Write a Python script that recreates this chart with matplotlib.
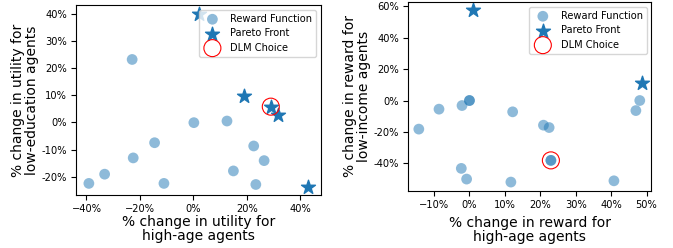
import matplotlib
matplotlib.use("Agg")
import matplotlib.pyplot as plt
from matplotlib.ticker import PercentFormatter, FuncFormatter, MultipleLocator

# Left panel data (%)
left_rf_x = [-22.9, 0.2, 12.6, -14.5, 22.6, -22.5, 26.5, -33.2, -39.1, -11.0, 15.0, 23.4]
left_rf_y = [23.2, -0.1, 0.5, -7.5, -8.7, -13.1, -14.1, -19.1, -22.5, -22.5, -17.9, -22.9]
left_pf_x = [2.1, 19.1, 29.0, 31.8, 43.1]
left_pf_y = [39.9, 9.6, 5.8, 2.8, -23.7]
left_dlm_x = [29.0]
left_dlm_y = [5.8]

# Right panel data (%)
right_rf_x = [-14.3, -8.6, -2.1, 0.0, 0.0, 12.2, 20.9, 22.5, 23.0, 23.0, -2.3, -0.8, 11.7, 40.8, 47.0, 48.1]
right_rf_y = [-18.2, -5.5, -3.2, 0.0, 0.0, -7.2, -15.7, -17.2, -38.1, -38.1, -43.2, -50.0, -51.9, -51.1, -6.4, 0.0]
right_pf_x = [1.1, 48.6]
right_pf_y = [57.4, 11.2]
right_dlm_x = [23.0]
right_dlm_y = [-38.1]

fig = plt.figure(figsize=(6.73, 2.48), dpi=100)
ax1 = fig.add_axes([0.113, 0.214, 0.364, 0.766])
ax2 = fig.add_axes([0.606, 0.231, 0.362, 0.761])

def draw(ax, rx, ry, px, py, dx, dy):
    ax.scatter(rx, ry, s=60, color="C0", alpha=0.5, edgecolors="none", label="Reward Function")
    ax.scatter(px, py, s=110, marker="*", color="C0", label="Pareto Front")
    ax.scatter(dx, dy, s=150, facecolors="none", edgecolors="red", linewidths=0.8, label="DLM Choice")
    ax.legend(loc="upper right", fontsize=7.1, borderaxespad=0.5, handletextpad=0.8,
              labelspacing=0.45, borderpad=0.4)
    ax.xaxis.set_major_formatter(PercentFormatter(decimals=0))
    ax.yaxis.set_major_formatter(FuncFormatter(lambda v, p: "%d%%" % round(v)))
    ax.tick_params(labelsize=7.1, length=3.5, pad=3)

draw(ax1, left_rf_x, left_rf_y, left_pf_x, left_pf_y, left_dlm_x, left_dlm_y)
ax1.set_xlim(-43.9, 47.8)
ax1.set_ylim(-26.75, 43.3)
ax1.xaxis.set_major_locator(MultipleLocator(20))
ax1.yaxis.set_major_locator(MultipleLocator(10))
ax1.set_xlabel("% change in utility for\nhigh-age agents", fontsize=10, linespacing=1.0, labelpad=1)
ax1.set_ylabel("% change in utility for\nlow-education agents", fontsize=10, linespacing=1.0, labelpad=1.5)

draw(ax2, right_rf_x, right_rf_y, right_pf_x, right_pf_y, right_dlm_x, right_dlm_y)
ax2.set_xlim(-17.4, 51.4)
ax2.set_ylim(-57.4, 62.7)
ax2.xaxis.set_major_locator(MultipleLocator(10))
ax2.yaxis.set_major_locator(MultipleLocator(20))
ax2.set_xlabel("% change in reward for\nhigh-age agents", fontsize=10, linespacing=1.0, labelpad=4.5)
ax2.set_ylabel("% change in reward for\nlow-income agents", fontsize=10, linespacing=1.0, labelpad=1.5)

fig.savefig("out.png", dpi=100)
